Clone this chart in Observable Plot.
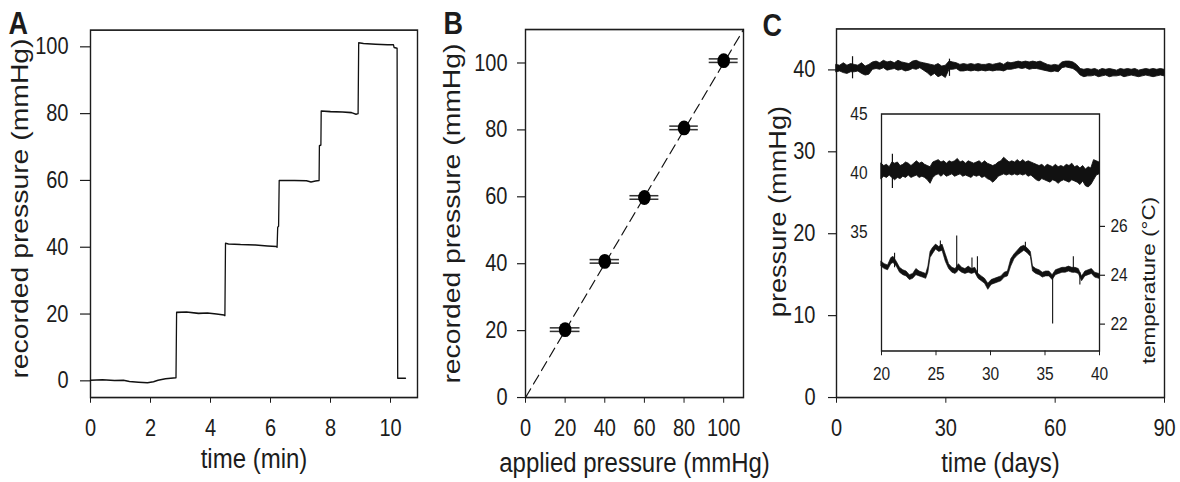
<!DOCTYPE html>
<html><head><meta charset="utf-8">
<script src="https://cdn.jsdelivr.net/npm/d3@7"></script>
<script src="https://cdn.jsdelivr.net/npm/@observablehq/plot@0.6"></script>
<style>
html,body{margin:0;padding:0;background:#fff;width:1180px;height:482px;overflow:hidden;}
#fig{position:relative;width:1180px;height:408px;transform:scaleY(1.1814);transform-origin:0 0;}
#fig > div{position:absolute;}
</style></head><body><div id="fig"></div>
<script>
// ---------- Panel A: recorded pressure vs time ----------
const aTime = [0,0.4,0.8,1.1,1.3,1.6,1.9,2.1,2.25,2.5,2.85,2.87,3.2,3.6,3.9,4.2,4.45,4.48,4.5,4.6,5.0,5.5,5.9,6.2,6.22,6.24,6.27,6.29,6.8,7.2,7.35,7.5,7.62,7.63,7.68,7.69,8.0,8.4,8.7,8.85,8.92,8.94,9.1,9.5,9.9,10.1,10.12,10.22,10.24,10.5];
const aPressure = [0.2,0.3,0.1,0.2,-0.2,-0.4,-0.6,-0.3,0.2,0.6,0.9,20.5,20.6,20.2,20.3,20.0,19.7,19.5,41.2,41.0,40.8,40.7,40.4,40.2,40.0,46.0,46.3,60.0,60.0,59.9,59.5,59.8,60.0,70.4,70.6,80.8,80.6,80.5,80.3,79.8,80.0,101.2,101.0,100.8,100.6,100.6,99.8,99.6,0.8,0.8];
const aXTicks = [0,2,4,6,8,10];
const aYTicks = [0,20,40,60,80,100];
const aXTitle = "time (min)";
const aYTitle = "recorded pressure (mmHg)";

// ---------- Panel B: recorded vs applied ----------
const bApplied = [20,40,60,80,100];
const bRecorded = [20.3,40.7,59.8,80.6,100.7];
const bErr = [7.5,7.4,7.3,7.2,7.3];
const bIdentity = [0,110];
const bXTicks = [0,20,40,60,80,100];
const bYTicks = [0,20,40,60,80,100];
const bXTitle = "applied pressure (mmHg)";
const bYTitle = "recorded pressure (mmHg)";

// ---------- Panel C: long-term pressure (envelope of the noisy trace) ----------
const cDays = [0,1,2,3,4,5,6,7,8,9,10,11,12,13,14,15,16,17,18,19,20,21,22,23,24,25,26,27,28,29,30,31,32,33,34,35,36,37,38,39,40,41,42,43,44,45,46,47,48,49,50,51,52,53,54,55,56,57,58,59,60,61,62,63,64,65,66,67,68,69,70,71,72,73,74,75,76,77,78,79,80,81,82,83,84,85,86,87,88,89,90];
const cHi = [40.6,40.5,40.8,40.5,40.7,40.6,40.5,40.8,40.4,40.6,
  40.9,41.0,40.8,41.1,40.9,41.0,40.8,41.1,40.9,40.8,
  40.7,41.0,41.1,40.9,40.8,40.7,40.6,40.5,40.7,40.4,
  40.5,41.0,40.9,40.8,40.6,40.7,40.6,40.7,40.6,40.7,
  40.6,40.6,40.7,40.6,40.7,40.8,40.6,40.9,40.8,40.9,
  41.0,40.9,41.0,40.9,41.0,40.9,41.0,40.8,40.6,40.5,
  40.6,40.5,40.9,41.0,41.0,40.9,40.6,40.1,40.0,40.1,
  40.0,40.1,39.9,40.1,40.0,40.1,40.0,39.9,40.1,40.0,
  40.1,40.0,40.1,39.9,40.0,40.1,40.0,40.1,40.0,40.1,40.0];
const cLo = [39.7,39.8,39.6,39.5,39.7,39.7,39.8,39.5,39.3,39.4,
  40.0,40.1,40.0,40.2,39.9,40.0,40.1,39.9,40.0,39.8,
  39.9,40.1,40.0,40.2,39.9,39.6,39.2,39.5,39.1,39.3,
  39.0,40.0,40.0,40.1,39.8,39.8,39.9,39.8,39.9,39.8,
  39.9,39.8,39.9,39.8,39.9,39.9,39.8,40.0,40.0,40.1,
  40.2,40.1,40.2,40.0,40.1,40.1,40.0,39.9,39.8,39.7,
  39.8,39.7,40.2,40.3,40.2,40.1,39.8,39.3,39.1,39.2,
  39.2,39.3,39.1,39.2,39.3,39.1,39.2,39.2,39.3,39.1,
  39.2,39.3,39.2,39.1,39.2,39.3,39.2,39.1,39.2,39.3,39.2];
const cSpikeT = [4.4,31];
const cSpikeLo = [38.9,39.2];
const cSpikeHi = [41.6,41.3];
const cXTicks = [0,30,60,90];
const cYTicks = [0,10,20,30,40];
const cXTitle = "time (days)";
const cYTitle = "pressure (mmHg)";

// ---------- Inset: pressure (left axis) ----------
const iDays = [20,20.25,20.5,20.75,21,21.25,21.5,21.75,22,22.25,22.5,22.75,23,23.25,23.5,23.75,24,24.25,24.5,24.75,25,25.25,25.5,25.75,26,26.25,26.5,26.75,27,27.25,27.5,27.75,28,28.25,28.5,28.75,29,29.25,29.5,29.75,30,30.25,30.5,30.75,31,31.25,31.5,31.75,32,32.25,32.5,32.75,33,33.25,33.5,33.75,34,34.25,34.5,34.75,35,35.25,35.5,35.75,36,36.25,36.5,36.75,37,37.25,37.5,37.75,38,38.25,38.5,38.75,39,39.25,39.5,39.75,40];
const iHi = [40.8,40.6,40.7,40.5,40.9,40.8,40.9,40.6,40.7,40.9,40.8,40.6,40.8,41.0,40.8,40.9,40.7,40.6,40.5,40.9,41.0,41.1,40.9,41.0,40.8,41.0,40.9,41.0,41.2,40.9,41.0,40.8,41.0,40.9,40.8,40.9,41.0,40.8,41.0,40.8,40.7,40.6,40.7,40.9,41.0,41.3,41.1,40.9,41.0,40.9,41.1,40.9,41.1,40.9,41.0,40.9,40.8,40.7,40.6,40.7,40.5,40.7,40.6,40.5,40.7,40.5,40.6,40.5,40.7,40.6,40.8,40.5,40.6,40.4,40.6,40.3,40.5,40.4,41.1,41.0,40.9];
const iLo = [39.5,39.7,39.6,39.8,39.6,39.4,39.6,39.5,39.7,39.6,39.8,39.6,39.7,39.8,39.6,39.7,39.6,39.4,39.1,39.6,39.8,39.9,39.7,39.9,39.7,39.8,39.9,39.7,39.8,39.9,39.7,39.8,39.7,39.6,39.8,39.7,39.8,39.6,39.7,39.5,39.4,39.2,39.4,39.7,39.8,39.9,39.8,39.9,39.8,39.9,39.8,39.9,39.8,39.9,39.7,39.8,39.6,39.4,39.3,39.5,39.4,39.3,39.2,39.4,39.3,39.1,39.3,39.4,39.3,39.2,39.4,39.3,39.2,39.0,39.3,38.9,38.8,39.0,39.4,39.8,39.9];
const iSpikeT = [21.0];
const iSpikeLo = [38.7];
const iSpikeHi = [41.6];
const iXTicks = [20,25,30,35,40];
const iPTicks = [35,40,45];

// ---------- Inset: temperature (right axis) ----------
const tDays = [20.0,20.3,20.6,20.9,21.1,21.4,21.7,22.0,22.3,22.6,22.9,23.2,23.5,23.8,24.1,24.3,24.5,24.7,25.0,25.3,25.6,25.9,26.2,26.5,26.8,27.1,27.4,27.7,28.0,28.3,28.6,28.9,29.2,29.5,29.8,30.1,30.4,30.7,31.0,31.3,31.6,31.9,32.2,32.5,32.8,33.1,33.4,33.7,33.9,34.2,34.5,34.8,35.1,35.4,35.7,36.0,36.3,36.6,36.9,37.2,37.5,37.8,38.1,38.4,38.7,39.0,39.3,39.6,40.0];
const tHi = [24.55,24.45,24.4,24.7,24.75,24.55,24.3,24.2,24.15,24.0,24.05,24.25,24.15,24.1,24.05,24.35,24.95,25.1,25.25,25.15,25.25,24.85,24.45,24.3,24.25,24.45,24.3,24.25,24.35,24.25,24.3,24.05,23.95,23.85,23.65,23.8,23.85,23.9,23.95,24.1,24.15,24.65,24.85,25.0,25.15,25.2,25.1,24.95,24.35,24.25,24.2,24.1,24.15,24.15,24.0,24.2,24.25,24.3,24.3,24.35,24.3,24.3,24.25,23.95,24.15,24.2,24.25,24.1,24.05];
const tLo = [24.35,24.25,24.2,24.45,24.5,24.35,24.1,24.0,23.95,23.8,23.85,24.0,23.95,23.9,23.85,24.1,24.7,24.85,25.05,24.95,25.0,24.55,24.25,24.1,24.05,24.2,24.1,24.05,24.1,24.05,24.1,23.85,23.75,23.65,23.4,23.6,23.65,23.7,23.75,23.9,23.95,24.35,24.65,24.8,24.9,25.0,24.9,24.75,24.15,24.05,24.0,23.9,23.95,23.95,23.8,24.0,24.05,24.1,24.1,24.15,24.1,24.1,24.05,23.75,23.95,24.0,24.05,23.9,23.85];
const tSpikeT = [21.2,25.4,26.9,28.3,28.8,33.2,35.7,37.6,38.2];
const tSpikeLo = [24.3,25.0,24.1,24.1,24.0,25.0,22.0,24.1,23.6];
const tSpikeHi = [24.9,25.4,25.6,24.7,24.75,25.35,24.0,24.75,24.1];
const tTicks = [22,24,26];
const tTitle = "temperature (°C)";

// ---------- drawing ----------
const FONT = "'Liberation Sans', Arial, Helvetica, sans-serif";
const INK = "#1c1c1c";
const fig = document.getElementById("fig");
function place(node, left, top, w, h) {
  const d = document.createElement("div");
  d.style.left = left + "px"; d.style.top = top + "px";
  d.style.width = w + "px"; d.style.height = h + "px";
  d.appendChild(node); fig.appendChild(d);
}
const baseStyle = fs => ({fontFamily: FONT, fontSize: fs, color: INK, background: "transparent", overflow: "visible"});
const T = d => d;
const xTitle = (s, dy) => Plot.text([s], {text: T, frameAnchor: "bottom", textAnchor: "middle", lineAnchor: "middle", dy, fontSize: 24});
const yTitle = (s, dx, dy, fs) => Plot.text([s], {text: T, frameAnchor: "left", textAnchor: "middle", lineAnchor: "middle", rotate: -90, dx, dy, fontSize: fs});
const letter = (s, dx, dy) => Plot.text([s], {text: T, frameAnchor: "top-left", textAnchor: "start", lineAnchor: "middle", dx, dy, fontSize: 27, fontWeight: "bold"});

// A
const aData = aTime.map((t, i) => ({t, p: aPressure[i]}));
place(Plot.plot({
  width: 430, height: 408, marginLeft: 90, marginRight: 13, marginTop: 25, marginBottom: 72,
  style: baseStyle("20px"),
  x: {domain: [0, 10.9], ticks: aXTicks, tickSize: 5, tickPadding: 13, label: null},
  y: {domain: [-5, 105], ticks: aYTicks, tickSize: 10, tickPadding: 12, label: null},
  marks: [
    Plot.frame({stroke: INK, strokeWidth: 1.4}),
    Plot.line(aData, {x: "t", y: "p", stroke: "#111", strokeWidth: 1.3}),
    xTitle(aXTitle, 51.6),
    yTitle(aYTitle, -69.7, -4.5, 24),
    letter("A", -82, -5.5)
  ]
}), 0, 0, 430, 408);

// B
const bPts = bApplied.map((x, i) => ({x, y: bRecorded[i], e: bErr[i]}));
const idLine = bIdentity.map(v => ({x: v, y: v}));
place(Plot.plot({
  width: 330, height: 408, marginLeft: 95, marginRight: 17, marginTop: 24.5, marginBottom: 72,
  style: baseStyle("20px"),
  x: {domain: [0, 110], ticks: bXTicks, tickSize: 5, tickPadding: 13, label: null},
  y: {domain: [0, 110], ticks: bYTicks, tickSize: 8, tickPadding: 10, label: null},
  marks: [
    Plot.frame({stroke: INK, strokeWidth: 1.4}),
    Plot.line(idLine, {x: "x", y: "y", stroke: "#111", strokeWidth: 1.1, strokeDasharray: "9,5"}),
    Plot.ruleY(bPts, {y: "y", x1: d => d.x - d.e, x2: d => d.x + d.e, stroke: "#333", strokeWidth: 1.3, dy: -1.5}),
    Plot.ruleY(bPts, {y: "y", x1: d => d.x - d.e, x2: d => d.x + d.e, stroke: "#333", strokeWidth: 1.3, dy: 1.5}),
    Plot.dot(bPts, {x: "x", y: "y", r: 6.3, fill: "#000"}),
    xTitle(bXTitle, 55),
    yTitle(bYTitle, -72.7, 0, 24),
    letter("B", -82, -5)
  ]
}), 430, 0, 330, 408);

// C main
const cBand = cDays.map((t, i) => ({t, lo: cLo[i], hi: cHi[i]}));
const cSp = cSpikeT.map((t, i) => ({t, lo: cSpikeLo[i], hi: cSpikeHi[i]}));
place(Plot.plot({
  width: 420, height: 408, marginLeft: 76, marginRight: 16, marginTop: 24, marginBottom: 72,
  style: baseStyle("20px"),
  x: {domain: [0, 90], ticks: cXTicks, tickSize: 5, tickPadding: 13, label: null},
  y: {domain: [0, 45], ticks: cYTicks, tickSize: 8, tickPadding: 13, label: null},
  marks: [
    Plot.frame({stroke: INK, strokeWidth: 1.4}),
    Plot.areaY(cBand, {x: "t", y1: "lo", y2: "hi", fill: "#111", stroke: "#111", strokeWidth: 0.8}),
    Plot.ruleX(cSp, {x: "t", y1: "lo", y2: "hi", stroke: "#111", strokeWidth: 1.2}),
    xTitle(cXTitle, 55),
    yTitle(cYTitle, -57.4, -1.4, 23),
    letter("C", -74, -2.8)
  ]
}), 760, 0, 420, 408);

// Inset pressure
const iBand = iDays.map((t, i) => ({t, lo: iLo[i], hi: iHi[i]}));
const iSp = iSpikeT.map((t, i) => ({t, lo: iSpikeLo[i], hi: iSpikeHi[i]}));
place(Plot.plot({
  width: 328, height: 246, marginLeft: 40, marginRight: 70, marginTop: 10, marginBottom: 35.4,
  style: baseStyle("15.5px"),
  x: {domain: [20, 40], ticks: iXTicks, tickSize: 4, tickPadding: 9.5, label: null},
  y: {domain: [25, 45], ticks: iPTicks, tickSize: 0, tickPadding: 14, label: null},
  marks: [
    Plot.frame({stroke: INK, strokeWidth: 1.3}),
    Plot.areaY(iBand, {x: "t", y1: "lo", y2: "hi", fill: "#111", stroke: "#111", strokeWidth: 0.8}),
    Plot.ruleX(iSp, {x: "t", y1: "lo", y2: "hi", stroke: "#111", strokeWidth: 1.2})
  ]
}), 841, 85.65, 328, 246);

// Inset temperature
const tBand = tDays.map((t, i) => ({t, lo: tLo[i], hi: tHi[i]}));
const tSp = tSpikeT.map((t, i) => ({t, lo: tSpikeLo[i], hi: tSpikeHi[i]}));
place(Plot.plot({
  width: 328, height: 246, marginLeft: 40, marginRight: 70, marginTop: 10, marginBottom: 35.4,
  style: baseStyle("15.5px"),
  x: {domain: [20, 40], axis: null},
  y: {domain: [20.9, 30.6], axis: "right", ticks: tTicks, tickSize: 5, tickPadding: 6, label: null},
  marks: [
    Plot.areaY(tBand, {x: "t", y1: "lo", y2: "hi", fill: "#111", stroke: "#111", strokeWidth: 0.6}),
    Plot.ruleX(tSp, {x: "t", y1: "lo", y2: "hi", stroke: "#111", strokeWidth: 1.1}),
    Plot.text([tTitle], {text: T, frameAnchor: "right", textAnchor: "middle", lineAnchor: "middle", rotate: -90, dx: 49, dy: 40.6, fontSize: 19})
  ]
}), 841, 85.65, 328, 246);
</script></body></html>
